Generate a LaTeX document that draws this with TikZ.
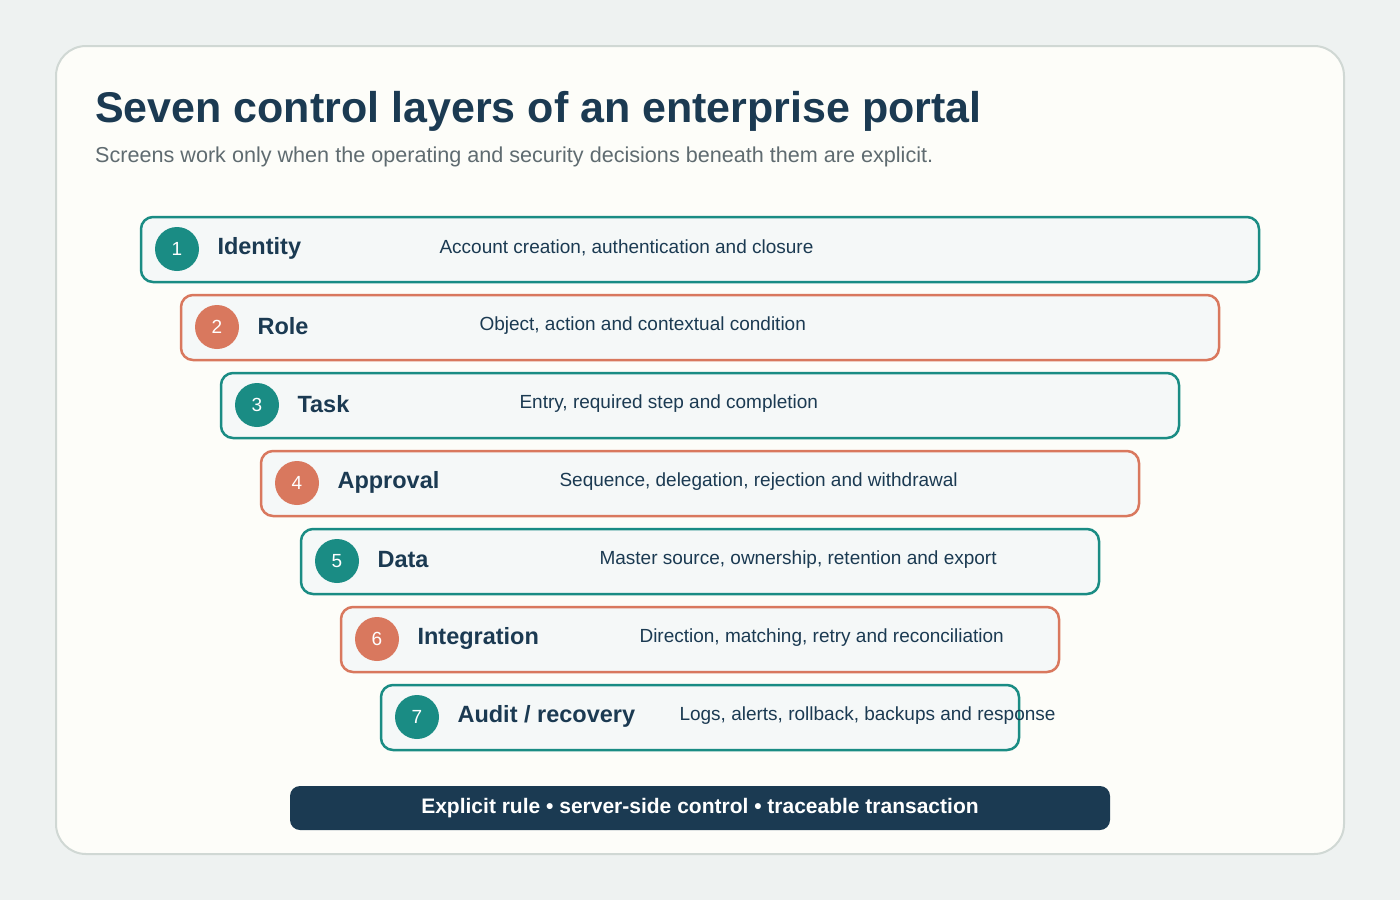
\documentclass[tikz,border=0pt]{standalone}
\usepackage{fontspec}
\setmainfont{Liberation Sans}
\usetikzlibrary{positioning}
\definecolor{teal}{HTML}{1A8C84}
\definecolor{coral}{HTML}{D9785E}
\definecolor{navy}{HTML}{1B3A52}
\definecolor{page}{HTML}{EEF2F1}
\definecolor{card}{HTML}{FDFDF9}
\definecolor{cardline}{HTML}{D0D8D4}
\definecolor{rowfill}{HTML}{F5F8F8}
\definecolor{subgray}{HTML}{5F6B70}
\tikzset{
  layer/.style = {draw = #1, line width = 2.5pt, fill = rowfill, rounded corners = 12pt},
  badge/.style = {circle, fill = #1, minimum size = 44pt, inner sep = 0pt,
    text = white, font = \fontsize{19}{22}\selectfont},
  lname/.style = {anchor = west, text = navy, font = \fontsize{23.5}{28}\selectfont\bfseries},
  ldesc/.style = {anchor = west, text = navy, font = \fontsize{19}{22}\selectfont},
}
\begin{document}
\begin{tikzpicture}[x=1pt, y=-1pt]
  \useasboundingbox[fill = page] (0,0) rectangle (1400,900);
  \draw[cardline, line width = 2pt, fill = card, rounded corners = 30pt] (56,46) rectangle (1344,854);

  \node[anchor = base west, text = navy, font = \fontsize{43}{50}\selectfont\bfseries,
    inner sep = 0pt] (title) at (95,122) {Seven control layers of an enterprise portal};
  \node[anchor = base west, text = subgray, font = \fontsize{21.6}{26}\selectfont,
    inner sep = 0pt] (subtitle) at (95,162) {Screens work only when the operating and security decisions beneath them are explicit.};

  \foreach \i/\col/\name/\desc in {
      0/teal/Identity/{Account creation, authentication and closure},
      1/coral/Role/{Object, action and contextual condition},
      2/teal/Task/{Entry, required step and completion},
      3/coral/Approval/{Sequence, delegation, rejection and withdrawal},
      4/teal/Data/{Master source, ownership, retention and export},
      5/coral/Integration/{Direction, matching, retry and reconciliation},
      6/teal/{Audit / recovery}/{Logs, alerts, rollback, backups and response}} {
    \pgfmathsetmacro{\dx}{40*\i}
    \pgfmathsetmacro{\dy}{78*\i}
    \draw[layer = \col] (141+\dx,217+\dy) rectangle (1259-\dx,282+\dy);
    \node[badge = \col] (n\i) at (177+\dx,249+\dy) {\the\numexpr\i+1\relax};
    \node[lname] (t\i) at (214+\dx,248+\dy) {\name};
    \node[ldesc] (d\i) at (436+\dx,248+\dy) {\desc};
  }

  \node[fill = navy, rounded corners = 10pt, minimum width = 820pt, minimum height = 44pt,
    text = white, font = \fontsize{21}{24}\selectfont\bfseries] (footer) at (700,808)
    {Explicit rule • server-side control • traceable transaction};
\end{tikzpicture}
\end{document}
